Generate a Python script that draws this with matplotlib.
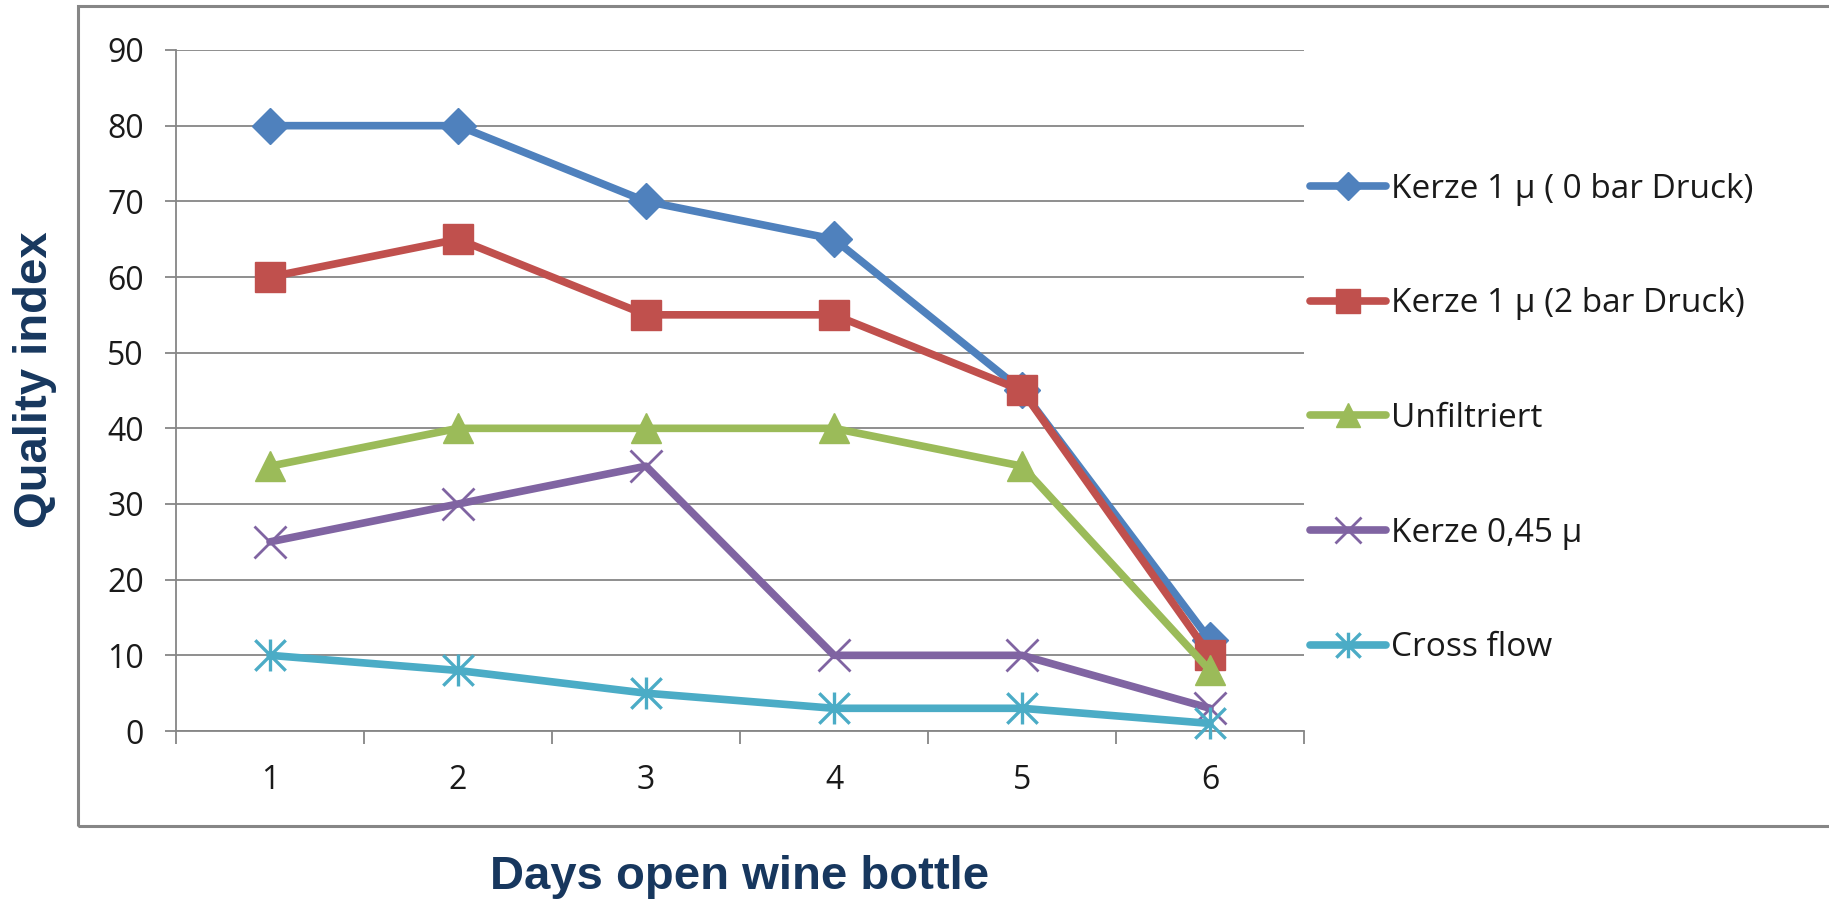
import matplotlib
matplotlib.use("Agg")
import matplotlib.pyplot as plt
import matplotlib.patches as patches
from matplotlib.path import Path
import numpy as np

days = [1, 2, 3, 4, 5, 6]
kerze_0bar = [80, 80, 70, 65, 45, 12]
kerze_2bar = [60, 65, 55, 55, 45, 10]
unfiltriert = [35, 40, 40, 40, 35, 8]
kerze_045 = [25, 30, 35, 10, 10, 3]
cross_flow = [10, 8, 5, 3, 3, 1]
labels = ["Kerze 1 \u00b5 ( 0 bar Druck)", "Kerze 1 \u00b5 (2 bar Druck)",
          "Unfiltriert", "Kerze 0,45 \u00b5", "Cross flow"]
yticks = list(range(0, 100, 10))

# excel style asterisk: x plus vertical bar
ast = Path([(-1, -1), (1, 1), (-1, 1), (1, -1), (0, -1.05), (0, 1.05)],
           [Path.MOVETO, Path.LINETO, Path.MOVETO, Path.LINETO, Path.MOVETO, Path.LINETO])

W, H = 1829, 905
fig = plt.figure(figsize=(W / 100, H / 100), dpi=100)
ax = fig.add_axes([176 / W, 1 - 731 / H, (1304 - 176) / W, (731 - 50) / H])

tickfont = "Open Sans"
grey = "#868686"

series = [
    (kerze_0bar, "#4F81BD", dict(marker="D", ms=18)),
    (kerze_2bar, "#C0504D", dict(marker="s", ms=22)),
    (unfiltriert, "#9BBB59", dict(marker="^", ms=22)),
    (kerze_045, "#8064A2", dict(marker="x", ms=23, mew=2.0)),
    (cross_flow, "#4BACC6", dict(marker=ast, ms=23, mew=2.4)),
]
for (vals, c, mk), lab in zip(series, labels):
    ax.plot(days, vals, color=c, lw=5.5, label=lab, clip_on=False, zorder=3,
            markerfacecolor=c, markeredgecolor=c, solid_capstyle="round",
            solid_joinstyle="round", **mk)

ax.set_xlim(0.5, 6.5)
ax.set_ylim(0, 90)
ax.set_yticks(yticks)
ax.set_xticks(days)
ax.set_xticks(np.arange(0.5, 7, 1), minor=True)
ax.grid(axis="y", color=grey, lw=1.3)
ax.set_axisbelow(True)
for s in ["top", "right"]:
    ax.spines[s].set_visible(False)
for s in ["left", "bottom"]:
    ax.spines[s].set_color(grey)
    ax.spines[s].set_linewidth(1.3)
ax.tick_params(axis="x", which="major", length=0, pad=24)
ax.tick_params(axis="x", which="minor", length=9.5, width=1.3, color=grey)
ax.tick_params(axis="y", length=8, width=1.3, color=grey, pad=15)
for t in ax.get_xticklabels() + ax.get_yticklabels():
    t.set_fontfamily(tickfont)
    t.set_fontsize(23)
    t.set_color("#1a1a1a")

leg = ax.legend(loc="upper left", bbox_to_anchor=(1293 / W, 1 - 156 / H),
                bbox_transform=fig.transFigure, frameon=False, borderpad=0,
                handlelength=2.3, handletextpad=0.15, labelspacing=2.45,
                markerscale=0.8, prop={"family": tickfont, "size": 24})
for t in leg.get_texts():
    t.set_color("#1a1a1a")

navy = "#17375E"
fig.text(740 / W, 1 - 877 / H, "Days open wine bottle", ha="center", va="center",
         fontsize=34, fontweight="bold", color=navy, family="Liberation Sans")
fig.text(35 / W, 1 - 380 / H, "Quality index", ha="center", va="center", rotation=90,
         fontsize=34, fontweight="bold", color=navy, family="Liberation Sans")

fig.add_artist(patches.Rectangle((78 / W, 1 - 826 / H), 1.0, (826 - 6) / H,
                                 transform=fig.transFigure, fill=False,
                                 edgecolor=grey, lw=2.2))

fig.savefig("out.png", dpi=100)
